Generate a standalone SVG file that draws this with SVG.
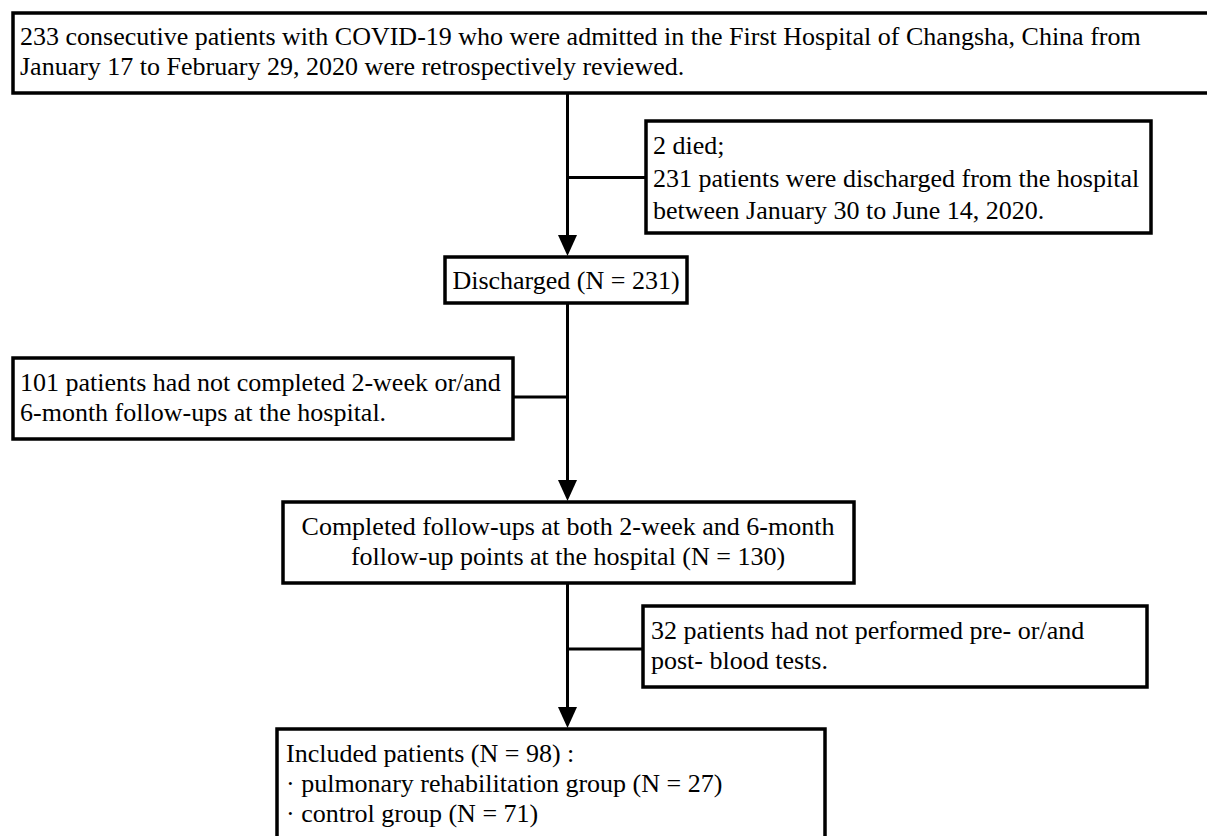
<svg xmlns="http://www.w3.org/2000/svg" width="1207" height="836" viewBox="0 0 1207 836">
<style>
rect.box{fill:#fff;stroke:#000;stroke-width:3.5}
text{font-family:"Liberation Serif","Times New Roman",serif;font-size:26px;fill:#000}
.c{text-anchor:middle}
.conn{fill:none;stroke:#000;stroke-width:3}
</style>
<defs>
<marker id="arr" markerUnits="userSpaceOnUse" markerWidth="22" markerHeight="20" refX="11" refY="9.5" orient="auto">
<path d="M0,0 L21,9.5 L0,19 z" fill="#000"/>
</marker>
</defs>
<rect width="1207" height="836" fill="#fff"/>
<g id="connectors">
<path class="conn" d="M567.5,93 V246" marker-end="url(#arr)"/>
<path class="conn" d="M567.5,177.5 H646"/>
<path class="conn" d="M567.5,303 V491" marker-end="url(#arr)"/>
<path class="conn" d="M513,397 H567.5"/>
<path class="conn" d="M567.5,583 V718" marker-end="url(#arr)"/>
<path class="conn" d="M567.5,649 H643"/>
</g>
<g id="n1">
<rect class="box" x="13" y="13" width="1200" height="80"/>
<text x="20" y="45">233 consecutive patients with COVID-19 who were admitted in the First Hospital of Changsha, China from</text>
<text x="20" y="75">January 17 to February 29, 2020 were retrospectively reviewed.</text>
</g>
<g id="n2">
<rect class="box" x="646" y="121" width="505" height="112"/>
<text x="653" y="154">2 died;</text>
<text x="653" y="187">231 patients were discharged from the hospital</text>
<text x="653" y="219">between January 30 to June 14, 2020.</text>
</g>
<g id="n3">
<rect class="box" x="445" y="257" width="242" height="46"/>
<text class="c" x="566" y="289">Discharged (N = 231)</text>
</g>
<g id="n4">
<rect class="box" x="13" y="358" width="500" height="81"/>
<text x="20" y="391">101 patients had not completed 2-week or/and</text>
<text x="20" y="421">6-month follow-ups at the hospital.</text>
</g>
<g id="n5">
<rect class="box" x="283" y="502" width="571" height="81"/>
<text class="c" x="568" y="535">Completed follow-ups at both 2-week and 6-month</text>
<text class="c" x="568" y="565">follow-up points at the hospital (N = 130)</text>
</g>
<g id="n6">
<rect class="box" x="643" y="606" width="504" height="81"/>
<text x="651" y="639">32 patients had not performed pre- or/and</text>
<text x="651" y="669">post- blood tests.</text>
</g>
<g id="n7">
<rect class="box" x="277" y="729" width="548" height="120"/>
<text x="286" y="762">Included patients (N = 98) :</text>
<text x="286" y="792">· pulmonary rehabilitation group (N = 27)</text>
<text x="286" y="822">· control group (N = 71)</text>
</g>
</svg>
